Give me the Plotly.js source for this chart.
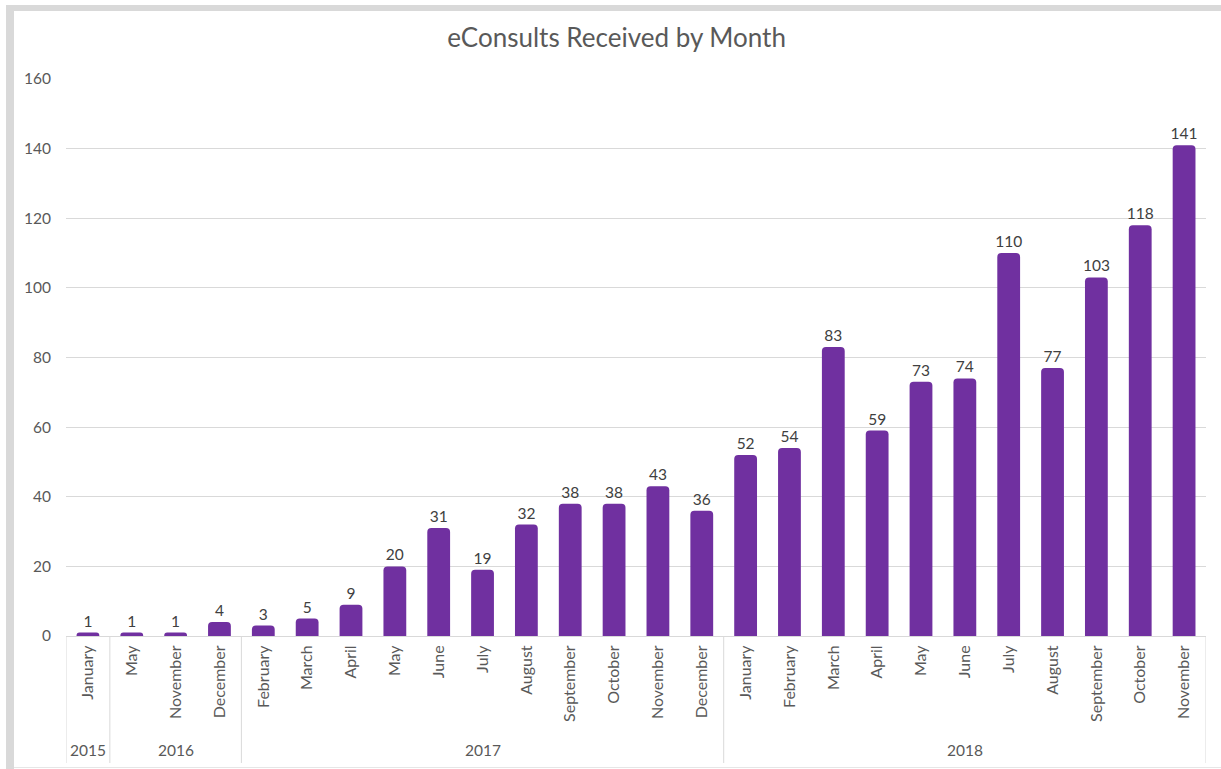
<!DOCTYPE html>
<html>
<head>
<meta charset="utf-8">
<script src="https://cdn.plot.ly/plotly-3.0.1.min.js"></script>
<style>
  html, body { margin: 0; padding: 0; background: #ffffff; }
  #wrap { position: relative; width: 1221px; height: 769px; overflow: hidden; }
  #chart { position: absolute; left: 0; top: 0; width: 1221px; height: 769px; }
  .frameTop { position: absolute; left: 6px; top: 5px; width: 1215px; height: 6px; background: #d9d9d9; }
  .frameLeft { position: absolute; left: 6px; top: 5px; width: 8px; height: 764px; background: #d9d9d9; }
  .frameBottom { position: absolute; left: 14px; top: 767px; width: 1207px; height: 1px; background: #e6e6e6; }
</style>
</head>
<body>
<div id="wrap">
  <div id="chart"></div>
  <div class="frameTop"></div>
  <div class="frameLeft"></div>
  <div class="frameBottom"></div>
</div>
<script>
const months = ["January",
  "May","November","December",
  "February","March","April","May","June","July","August","September","October","November","December",
  "January","February","March","April","May","June","July","August","September","October","November"];
const years = ["2015","2016","2017","2018"];
const yearCounts = [1, 3, 11, 11];
const consults = [1,
  1,1,4,
  3,5,9,20,31,19,32,38,38,43,36,
  52,54,83,59,73,74,110,77,103,118,141];
const yTicks = [0,20,40,60,80,100,120,140,160];

const FONT = "Lato, 'Open Sans', sans-serif";
const idx = months.map((m, i) => i);

const shapes = [];
const annotations = [];
let start = 0;
const bounds = [-0.5];
yearCounts.forEach((c, k) => {
  const center = start + (c - 1) / 2;
  annotations.push({
    x: center, xref: 'x', y: -0.205, yref: 'paper',
    text: years[k], showarrow: false,
    font: {family: FONT, size: 15.5, color: '#595959'},
    xanchor: 'center', yanchor: 'middle'
  });
  start += c;
  bounds.push(start - 0.5);
});
bounds.forEach(b => {
  shapes.push({
    type: 'line', xref: 'x', yref: 'paper',
    x0: b, x1: b, y0: 0, y1: -0.228,
    line: {color: '#d9d9d9', width: 1}
  });
});

const trace = {
  type: 'bar',
  x: idx,
  y: consults,
  marker: {color: '#7030A0', cornerradius: 4},
  width: 0.52,
  text: consults.map(String),
  textposition: 'outside',
  constraintext: 'none',
  cliponaxis: false,
  textfont: {family: FONT, size: 15.5, color: '#404040'},
  hoverinfo: 'x+y'
};

const layout = {
  width: 1221, height: 769,
  margin: {l: 66, r: 15, t: 79, b: 133},
  paper_bgcolor: '#ffffff',
  plot_bgcolor: '#ffffff',
  title: {
    text: 'eConsults Received by Month',
    font: {family: FONT, size: 26, color: '#595959'},
    x: 0.505, xanchor: 'center', y: 0.951, yanchor: 'middle'
  },
  showlegend: false,
  xaxis: {
    type: 'linear',
    range: [-0.5, months.length - 0.5],
    tickmode: 'array',
    tickvals: idx,
    ticktext: months,
    tickangle: -90,
    tickfont: {family: FONT, size: 16, color: '#595959'},
    ticks: '',
    ticklabelstandoff: 2,
    showgrid: false,
    zeroline: false,
    showline: true,
    linecolor: '#d9d9d9',
    linewidth: 1,
    fixedrange: true
  },
  yaxis: {
    range: [0, 160],
    tickmode: 'array',
    tickvals: yTicks,
    ticktext: yTicks.map(String),
    tickfont: {family: FONT, size: 15.5, color: '#595959'},
    showgrid: true,
    gridcolor: '#d9d9d9',
    gridwidth: 1,
    zeroline: false,
    showline: false,
    ticks: '',
    ticklabelstandoff: 14,
    fixedrange: true
  },
  shapes: shapes,
  annotations: annotations,
  bargap: 0.48
};

Plotly.newPlot('chart', [trace], layout, {displayModeBar: false, staticPlot: true});
</script>
</body>
</html>
